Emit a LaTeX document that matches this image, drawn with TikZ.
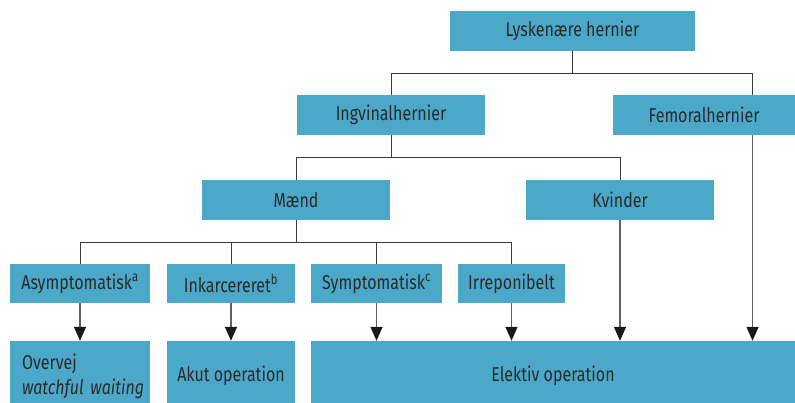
\documentclass[tikz,border=0pt]{standalone}
\usepackage{fontspec}
\setmainfont[FakeStretch=0.8]{Fira Sans}
\usetikzlibrary{arrows.meta}
\definecolor{boxc}{HTML}{4BA8C9}
\definecolor{txtc}{HTML}{2A2A2A}
\definecolor{linec}{HTML}{3A3A3A}
\definecolor{arrc}{HTML}{606060}
\tikzset{
  box/.style={fill=boxc, text=txtc, inner sep=0pt, font=\fontsize{20}{24}\selectfont, anchor=center},
  tree/.style={draw=linec, line width=1pt},
  arr/.style={draw=arrc, line width=1.3pt, -{Triangle[width=12pt,length=14pt,color=black!90]}}
}
\begin{document}
\begin{tikzpicture}[x=1pt,y=-1pt]
\useasboundingbox (0,0) rectangle (795,402);
\clip (0,0) rectangle (795,402);
% row 1
\node[box, minimum width=245pt, minimum height=40pt] (lysk) at (572.5,31) {Lyskenære hernier};
% row 2
\node[box, minimum width=188pt, minimum height=40pt] (ingv) at (391,115) {Ingvinalhernier};
\node[box, minimum width=182pt, minimum height=40pt] (fem) at (704,115) {Femoralhernier};
\coordinate (femtop) at (752.5,95);
\coordinate (fembot) at (752.5,135);
% row 3
\node[box, minimum width=188pt, minimum height=40pt] (maend) at (296,200) {Mænd};
\node[box, minimum width=188pt, minimum height=40pt] (kvinder) at (620,200) {Kvinder};
% row 4
\node[box, minimum width=140pt, minimum height=39pt] (asym) at (80,283.5) {Asymptomatisk\textsuperscript{a}};
\node[box, minimum width=128pt, minimum height=39pt] (inkarc) at (231,283.5) {Inkarcereret\textsuperscript{b}};
\node[box, minimum width=131pt, minimum height=39pt] (sympt) at (376.5,283.5) {Symptomatisk\textsuperscript{c}};
\node[box, minimum width=107pt, minimum height=39pt] (irrep) at (511.5,283.5) {Irreponibelt};
% row 5
\node[box, minimum width=140pt, minimum height=70pt, text width=116pt, align=left, inner xsep=12pt] (overvej) at (80,376) {\mbox{Overvej}\\[1pt]\mbox{\textit{watchful waiting}}};
\node[box, minimum width=128pt, minimum height=70pt] (akut) at (231,376) {Akut operation};
\node[box, minimum width=484pt, minimum height=70pt] (elektiv) at (553,376) {Elektiv operation};
% tree connectors
\draw[tree] (lysk.south) -- ++(0,22) coordinate (j1) -| (ingv.north);
\draw[tree] (j1) -| (femtop);
\draw[tree] (ingv.south) -- ++(0,22) coordinate (j2) -| (maend.north);
\draw[tree] (j2) -| (kvinder.north);
\draw[tree] (maend.south) -- ++(0,22) coordinate (j3) -| (asym.north);
\draw[tree] (j3) -| (inkarc.north);
\draw[tree] (j3) -| (sympt.north);
\draw[tree] (j3) -| (irrep.north);
% arrows
\draw[arr] (asym.south) -- (asym.south |- overvej.north);
\draw[arr] (inkarc.south) -- (inkarc.south |- akut.north);
\draw[arr] (sympt.south) -- (sympt.south |- elektiv.north);
\draw[arr] (irrep.south) -- (irrep.south |- elektiv.north);
\draw[arr] (kvinder.south) -- (kvinder.south |- elektiv.north);
\draw[arr] (fembot) -- (fembot |- elektiv.north);
\end{tikzpicture}
\end{document}
